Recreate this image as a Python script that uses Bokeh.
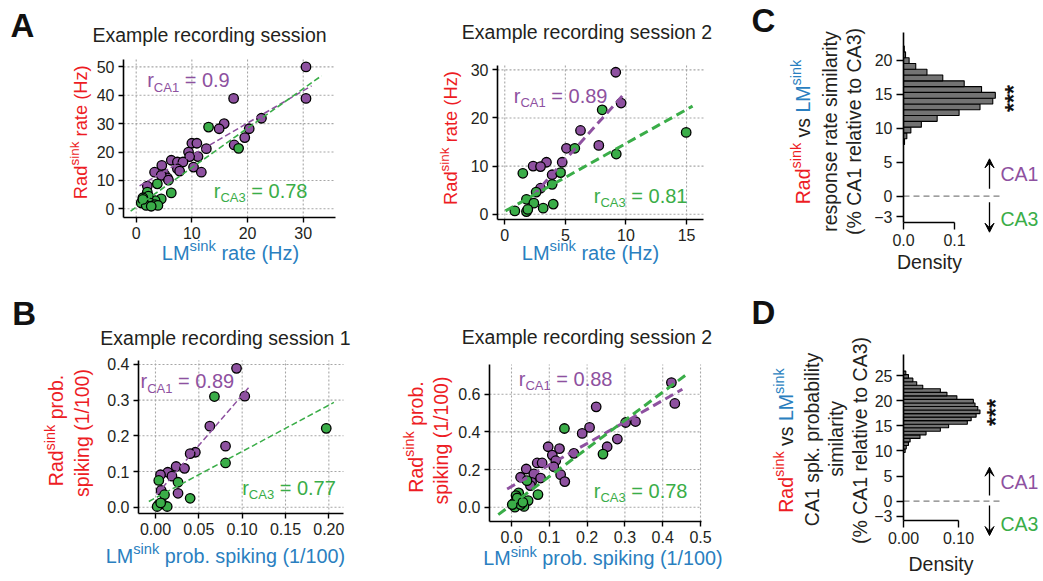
import math
from bokeh.plotting import figure
from bokeh.models import Range1d, FixedTicker, Label, Arrow, VeeHead, NumeralTickFormatter
from bokeh.layouts import row, column
from bokeh.embed import file_html
from bokeh.resources import INLINE

FONT = "Liberation Sans"
INK = "#231f20"
PURPLE = "#8e51a0"
GREEN = "#3aad48"
RED = "#ed1c24"
BLUE = "#2a7fc0"
HIST_FILL = "#737373"
GRID_COLOR = "#a6a6a6"

# ---------------- data ----------------
# A: example session 1 (rates, Hz)
A1_CA1_X = [30.5, 30.5, 17.5, 22.5, 20.3, 19.5, 15.8, 14.9, 17.6, 12.6, 10.0, 10.9, 9.4, 11.1, 9.6,
            10.3, 11.7, 6.3, 7.4, 8.4, 7.4, 7.8, 4.6, 3.3, 5.1, 5.6, 4.5, 5.8, 2.0]
A1_CA1_Y = [50.0, 38.9, 38.9, 31.9, 28.2, 25.1, 30.0, 28.2, 22.5, 21.2, 23.1, 23.1, 20.0, 18.4, 18.4,
            14.7, 12.9, 17.1, 16.5, 16.5, 14.1, 13.3, 15.3, 12.9, 12.1, 10.9, 11.8, 10.1, 8.0]
A1_CA3_X = [13.0, 18.4, 6.3, 3.8, 4.5, 3.4, 2.0, 2.2, 1.2, 1.5, 2.4, 3.4, 3.9, 0.9, 1.8, 2.7, 1.2]
A1_CA3_Y = [28.8, 21.3, 5.6, 8.8, 3.5, 2.9, 5.9, 4.5, 3.9, 2.7, 2.1, 1.5, 1.2, 2.1, 1.2, 0.9, 3.3]
A1_FIT_CA1 = (1.14, 7.4, 0.6, 31.5)      # slope, intercept, x start, x end
A1_FIT_CA3 = (1.39, 0.6, -1.0, 33.3)
A1_R = ("0.9", "0.78")
A1_XTICKS = [0, 10, 20, 30]
A1_YTICKS = [0, 10, 20, 30, 40, 50]

# A: example session 2
A2_CA1_X = [9.16, 9.6, 6.25, 7.76, 5.09, 3.44, 2.34, 2.95, 4.74, 3.91, 2.95]
A2_CA1_Y = [29.5, 23.1, 17.4, 14.3, 13.7, 10.8, 10.0, 9.9, 10.8, 8.2, 5.4]
A2_CA3_X = [8.04, 9.2, 14.97, 5.78, 1.49, 4.6, 3.91, 2.59, 1.79, 2.4, 3.17, 4.0, 0.83, 1.79, 1.9]
A2_CA3_Y = [21.7, 12.5, 17.0, 13.7, 8.5, 8.65, 6.2, 4.6, 3.1, 2.3, 1.25, 2.1, 0.69, 0.54, 1.0]
A2_FIT_CA1 = (2.81, -2.69, 2.26, 9.96)
A2_FIT_CA3 = (1.41, 0.6, 0.06, 15.5)
A2_R = ("0.89", "0.81")
A2_XTICKS = [0, 5, 10, 15]
A2_YTICKS = [0, 10, 20, 30]

# B: example session 1 (spiking probability)
B1_CA1_X = [0.0935, 0.103, 0.0627, 0.0808, 0.046, 0.040, 0.0238, 0.0335, 0.0142, 0.0058, 0.019, 0.0065, 0.026]
B1_CA1_Y = [0.389, 0.311, 0.227, 0.171, 0.154, 0.150, 0.114, 0.109, 0.098, 0.091, 0.087, 0.047, 0.039]
B1_CA3_X = [0.068, 0.197, 0.0808, 0.026, 0.0038, 0.0104, 0.040, 0.0038, 0.0077, 0.0019, 0.0135, 0.006]
B1_CA3_Y = [0.310, 0.221, 0.124, 0.070, 0.075, 0.035, 0.025, 0.0075, 0.0093, 0.002, 0.002, 0.012]
B1_FIT_CA1 = (2.82, 0.032, 0.0012, 0.1077)
B1_FIT_CA3 = (1.30, 0.026, -0.0077, 0.2058)
B1_R = ("0.89", "0.77")
B1_XTICKS = [0, 0.05, 0.1, 0.15, 0.2]
B1_YTICKS = [0, 0.1, 0.2, 0.3, 0.4]

# B: example session 2
B2_CA1_X = [0.423, 0.432, 0.224, 0.328, 0.302, 0.2065, 0.187, 0.280, 0.253, 0.165, 0.097, 0.127, 0.108,
            0.117, 0.112, 0.068, 0.081, 0.130, 0.141, 0.039, 0.024, 0.059, 0.077, 0.053, 0.050]
B2_CA1_Y = [0.662, 0.551, 0.533, 0.455, 0.450, 0.424, 0.392, 0.362, 0.321, 0.286, 0.321, 0.311, 0.277,
            0.247, 0.215, 0.235, 0.235, 0.173, 0.136, 0.203, 0.159, 0.177, 0.155, 0.132, 0.115]
B2_CA3_X = [0.140, 0.242, 0.070, 0.041, 0.044, 0.019, 0.012, 0.018, 0.006, 0.033, 0.009, 0.024, 0.015, 0.030, 0.002]
B2_CA3_Y = [0.418, 0.282, 0.067, 0.141, 0.035, 0.076, 0.062, 0.035, 0.021, 0.004, 0.0, 0.014, 0.049, 0.026, 0.014]
B2_FIT_CA1 = (1.143, 0.110, -0.0115, 0.452)
B2_FIT_CA3 = (1.495, 0.013, -0.035, 0.4695)
B2_R = ("0.88", "0.78")
B2_XTICKS = [0, 0.1, 0.2, 0.3, 0.4, 0.5]
B2_YTICKS = [0, 0.2, 0.4, 0.6]

# C: response-rate similarity distribution
C_BIN_LOWER = [7.59, 8.44, 9.29, 10.14, 10.99, 11.84, 12.69, 13.54, 14.39, 15.24, 16.09, 16.94,
               17.79, 18.64, 19.49, 20.34, 21.19]
C_DENSITY = [0.002, 0.0065, 0.0144, 0.035, 0.066, 0.109, 0.150, 0.175, 0.180, 0.153, 0.119, 0.077,
             0.046, 0.024, 0.011, 0.004, 0.0015]
C_BIN_WIDTH = 0.85
C_XTICKS = [0, 0.1]
C_YTICKS = [-3, 0, 5, 10, 15, 20]

# D: spiking-probability similarity distribution
D_BIN_LOWER = [9.685, 10.39, 11.095, 11.8, 12.505, 13.21, 13.915, 14.62, 15.325, 16.03, 16.735, 17.44,
               18.145, 18.85, 19.555, 20.26, 20.965, 21.67, 22.375, 23.08, 23.785, 24.49, 25.195]
D_DENSITY = [0.003, 0.005, 0.009, 0.012, 0.030, 0.041, 0.067, 0.082, 0.116, 0.123, 0.132, 0.139,
             0.135, 0.130, 0.127, 0.097, 0.079, 0.067, 0.035, 0.024, 0.017, 0.009, 0.0042]
D_BIN_WIDTH = 0.705
D_XTICKS = [0, 0.1]
D_YTICKS = [-3, 0, 5, 10, 15, 20, 25]

# ---------------- text helpers ----------------
CW = {' ': 278, '!': 278, '%': 889, '(': 333, ')': 333, '*': 389, '.': 278, '/': 278, '=': 584,
      '-': 333, '\u2212': 584,
      'A': 667, 'B': 667, 'C': 722, 'D': 722, 'E': 667, 'H': 722, 'L': 556, 'M': 833, 'R': 722,
      'a': 556, 'b': 556, 'c': 500, 'd': 556, 'e': 556, 'f': 278, 'g': 556, 'h': 556, 'i': 222,
      'j': 222, 'k': 500, 'l': 222, 'm': 833, 'n': 556, 'o': 556, 'p': 556, 'q': 556, 'r': 333,
      's': 500, 't': 278, 'u': 556, 'v': 500, 'w': 722, 'x': 500, 'y': 500, 'z': 500}


def tw(s, size):
    return sum(CW.get(ch, 556) for ch in s) / 1000.0 * size


class Panel:
    """One tile of the page; its frame covers the whole tile.  The inner plot box
    (page pixels) maps onto xlim/ylim, and the axes are pinned to the box edges."""

    def __init__(self, tx, ty, w, h, box, xlim, ylim):
        bl, bt, br, bb = box
        kx = (xlim[1] - xlim[0]) / (br - bl)
        ky = (ylim[1] - ylim[0]) / (bb - bt)
        xr = (xlim[0] - (bl - tx) * kx, xlim[1] + (tx + w - br) * kx)
        yr = (ylim[0] - (ty + h - bb) * ky, ylim[1] + (bt - ty) * ky)
        self.fl = tx
        self.fb = ty + h
        self.xlim, self.ylim = xlim, ylim
        self.p = figure(width=w, height=h, x_range=Range1d(*xr), y_range=Range1d(*yr),
                        output_backend="svg", toolbar_location=None,
                        min_border_left=0, min_border_right=0, min_border_top=0, min_border_bottom=0)
        self.p.outline_line_color = None
        self.p.background_fill_color = "white"
        self.p.border_fill_color = "white"
        self.p.grid.visible = False

    def rich(self, segs, px, py, size, rotated=False, align="center", bold=False):
        """Place a run of text pieces; (px, py) is the page position of the
        cap-height middle of the run (its centre, or its start if align='left')."""
        items = []
        total = 0.0
        for t, c, k in segs:
            s = size * (0.74 if k == "sup" else 0.65 if k == "sub" else 1.0)
            w = tw(t, s)
            items.append((t, c, k, s, w))
            total += w
        pos = -total / 2.0 if align == "center" else 0.0
        for t, c, k, s, w in items:
            shift = 0.31 * size if k == "sup" else (-0.36 * size if k == "sub" else 0.0)
            lead = len(t) - len(t.lstrip(" "))
            txt = t.strip(" ")
            off = pos + tw(" " * lead, s)
            if txt:
                if rotated:
                    x, y, ang = px - shift, py - off, math.pi / 2
                else:
                    x, y, ang = px + off, py - shift, 0.0
                self.p.add_layout(Label(x=x - self.fl, y=self.fb - y, x_units="screen", y_units="screen",
                                        text=txt, text_color=c, text_font=FONT,
                                        text_font_size="%.1fpx" % s,
                                        text_font_style="bold" if bold else "normal",
                                        text_align="left", text_baseline="middle", angle=ang))
            pos += w

    def axes(self, xticks, yticks, xfmt=None, yfmt=None, tick_out=5, standoff=4, size="16px",
             xbounds=None, ybounds=None):
        xa, ya = self.p.xaxis[0], self.p.yaxis[0]
        xa.fixed_location = self.ylim[0]
        ya.fixed_location = self.xlim[0]
        xa.bounds = xbounds if xbounds else self.xlim
        ya.bounds = ybounds if ybounds else self.ylim
        for ax, ticks, fmt in ((xa, xticks, xfmt), (ya, yticks, yfmt)):
            ax.ticker = FixedTicker(ticks=ticks)
            if fmt:
                ax.formatter = NumeralTickFormatter(format=fmt)
            ax.minor_tick_line_color = None
            ax.major_tick_out = tick_out
            ax.major_tick_in = 0
            ax.major_tick_line_width = 1.4
            ax.major_tick_line_color = "black"
            ax.axis_line_width = 1.6
            ax.axis_line_color = "black"
            ax.major_label_text_font = FONT
            ax.major_label_text_font_size = size
            ax.major_label_text_color = INK
            ax.major_label_standoff = standoff

    def grid(self, xticks, yticks):
        (x0, x1), (y0, y1) = self.xlim, self.ylim
        style = dict(line_color=GRID_COLOR, line_dash="2 2", line_width=1.1)
        self.p.segment(x0=xticks, x1=xticks, y0=[y0] * len(xticks), y1=[y1] * len(xticks), **style)
        self.p.segment(x0=[x0] * len(yticks), x1=[x1] * len(yticks), y0=yticks, y1=yticks, **style)

    def arrow(self, px, py0, py1):
        self.p.add_layout(Arrow(end=VeeHead(size=9, fill_color="black", line_color="black", line_width=1),
                                x_start=px - self.fl, y_start=self.fb - py0, x_end=px - self.fl,
                                y_end=self.fb - py1, start_units="screen", end_units="screen",
                                line_width=1.3, line_color="black"))


def scatter_panel(P, cx, cy, gx, gy, fit1, fit3, lw, dash):
    P.p.scatter(cx, cy, size=9.5, fill_color=PURPLE, line_color="black", line_width=1.3)
    P.p.scatter(gx, gy, size=9.5, fill_color=GREEN, line_color="black", line_width=1.3)
    for (s, b, x0, x1), col in ((fit1, PURPLE), (fit3, GREEN)):
        P.p.line([x0, x1], [s * x0 + b, s * x1 + b], line_color=col, line_width=lw, line_dash=dash)


def r_text(P, which, val, left, cy):
    col = PURPLE if which == "CA1" else GREEN
    P.rich([("r", col, "n"), (which, col, "sub"), (" = " + val, col, "n")], left, cy, 20, align="left")


def sink_label(base, rest, col):
    return [(base, col, "n"), ("sink", col, "sup"), (rest, col, "n")]


def hist_panel(P, lower, dens, width):
    P.p.hbar(y=[lo + width / 2 for lo in lower], height=width, left=0, right=dens,
             fill_color=HIST_FILL, line_color="black", line_width=1.1)
    P.p.line([P.xlim[0], P.xlim[1]], [0, 0], line_color="#808080", line_dash="6 4", line_width=1.3)


# ---------------- panel A1 ----------------
A1 = Panel(0, 0, 400, 290, (123, 59, 335, 217), (-2.28, 35.8), (-3.06, 52.6))
A1.grid(A1_XTICKS, A1_YTICKS)
A1.axes(A1_XTICKS, A1_YTICKS)
scatter_panel(A1, A1_CA1_X, A1_CA1_Y, A1_CA3_X, A1_CA3_Y, A1_FIT_CA1, A1_FIT_CA3, 1.6, "6 3")
r_text(A1, "CA1", A1_R[0], 146.7, 79.5)
r_text(A1, "CA3", A1_R[1], 213.3, 190)
A1.rich([("A", "#111111", "n")], 10, 36.7 - 0.36 * 33, 33, align="left", bold=True)
A1.rich([("Example recording session", INK, "n")], 209, 34, 19.5)
A1.rich(sink_label("LM", " rate (Hz)", BLUE), 230, 252, 20)
A1.rich(sink_label("Rad", " rate (Hz)", RED), 79.5, 131.7, 18.3, rotated=True)

# ---------------- panel A2 ----------------
A2 = Panel(400, 0, 340, 290, (497, 65, 703, 219), (-0.6, 16.4), (-1.1, 30.9))
A2.grid(A2_XTICKS, A2_YTICKS)
A2.axes(A2_XTICKS, A2_YTICKS)
scatter_panel(A2, A2_CA1_X, A2_CA1_Y, A2_CA3_X, A2_CA3_Y, A2_FIT_CA1, A2_FIT_CA3, 3.0, "9 5")
r_text(A2, "CA1", A2_R[0], 513.3, 95)
r_text(A2, "CA3", A2_R[1], 593.3, 195)
A2.rich([("Example recording session 2", INK, "n")], 586.5, 31.7, 19.5)
A2.rich(sink_label("LM", " rate (Hz)", BLUE), 590, 252, 20)
A2.rich(sink_label("Rad", " rate (Hz)", RED), 450, 137.5, 18.3, rotated=True)

# ---------------- panel C ----------------
C = Panel(740, 0, 303, 290, (903, 32, 999, 222), (0, 0.1882), (-3.87, 24.04))
C.axes(C_XTICKS, C_YTICKS, xfmt="0.0", tick_out=7, standoff=4, xbounds=(0, 0.1))
C.p.yaxis[0].major_label_overrides = {-3: "\u22123"}
hist_panel(C, C_BIN_LOWER, C_DENSITY, C_BIN_WIDTH)
C.rich([("C", "#111111", "n")], 751, 32 - 0.36 * 33, 33, align="left", bold=True)
C.rich([("Rad", RED, "n"), ("sink", RED, "sup"), (" vs ", INK, "n"), ("LM", BLUE, "n"), ("sink", BLUE, "sup")],
       802, 131.5, 19.5, rotated=True)
C.rich([("response rate similarity", INK, "n")], 829, 131, 19.5, rotated=True)
C.rich([("(% CA1 relative to CA3)", INK, "n")], 853, 131, 19.5, rotated=True)
C.rich([("Density", INK, "n")], 929, 261.7, 19.5)
C.rich([("CA1", PURPLE, "n")], 1000, 173.3, 19.5, align="left")
C.rich([("CA3", GREEN, "n")], 1000, 218.3, 19.5, align="left")
C.rich([("***", "#111111", "n")], 1013, 98, 23, rotated=True, bold=True)
C.arrow(989, 188.3, 158.3)
C.arrow(989, 201.7, 231.7)

# ---------------- panel B1 ----------------
B1 = Panel(0, 290, 400, 291, (138, 360, 343, 513), (-0.0196, 0.2169), (-0.0176, 0.411))
B1.grid(B1_XTICKS, B1_YTICKS)
B1.axes(B1_XTICKS, B1_YTICKS, xfmt="0.00", yfmt="0.0")
scatter_panel(B1, B1_CA1_X, B1_CA1_Y, B1_CA3_X, B1_CA3_Y, B1_FIT_CA1, B1_FIT_CA3, 1.5, "6 3")
r_text(B1, "CA1", B1_R[0], 140, 380.3)
r_text(B1, "CA3", B1_R[1], 241.7, 487)
B1.rich([("B", "#111111", "n")], 11.7, 325 - 0.36 * 33, 33, align="left", bold=True)
B1.rich([("Example recording session 1", INK, "n")], 225, 337.8, 19.5)
B1.rich(sink_label("LM", " prob. spiking (1/100)", BLUE), 225, 555, 19.8)
B1.rich(sink_label("Rad", " prob.", RED), 55.8, 430, 19.5, rotated=True)
B1.rich([("spiking (1/100)", RED, "n")], 81, 432.5, 19.5, rotated=True)

# ---------------- panel B2 ----------------
B2 = Panel(400, 290, 340, 291, (489, 364, 701, 521), (-0.0582, 0.5026), (-0.0759, 0.758))
B2.grid(B2_XTICKS, B2_YTICKS)
B2.axes(B2_XTICKS, B2_YTICKS, xfmt="0.0", yfmt="0.0")
scatter_panel(B2, B2_CA1_X, B2_CA1_Y, B2_CA3_X, B2_CA3_Y, B2_FIT_CA1, B2_FIT_CA3, 3.0, "9 5")
r_text(B2, "CA1", B2_R[0], 518.3, 378)
r_text(B2, "CA3", B2_R[1], 593.3, 490)
B2.rich([("Example recording session 2", INK, "n")], 586.5, 336, 19.5)
B2.rich(sink_label("LM", " prob. spiking (1/100)", BLUE), 602.5, 557.5, 19.8)
B2.rich(sink_label("Rad", " prob.", RED), 415, 436.5, 19.5, rotated=True)
B2.rich([("spiking (1/100)", RED, "n")], 440, 440, 19.5, rotated=True)

# ---------------- panel D ----------------
D = Panel(740, 290, 303, 291, (903, 354, 999, 520), (0, 0.1745), (-3.84, 29.2))
D.axes(D_XTICKS, D_YTICKS, xfmt="0.00", tick_out=7, standoff=4, xbounds=(0, 0.1))
D.p.yaxis[0].major_label_overrides = {-3: "\u22123"}
hist_panel(D, D_BIN_LOWER, D_DENSITY, D_BIN_WIDTH)
D.rich([("D", "#111111", "n")], 751, 323.5 - 0.36 * 33, 33, align="left", bold=True)
D.rich([("Rad", RED, "n"), ("sink", RED, "sup"), (" vs ", INK, "n"), ("LM", BLUE, "n"), ("sink", BLUE, "sup")],
       785, 440, 19.5, rotated=True)
D.rich([("CA1 spk. probability", INK, "n")], 811.7, 439, 19.5, rotated=True)
D.rich([("similarity", INK, "n")], 835, 438.3, 19.5, rotated=True)
D.rich([("(% CA1 relative to CA3)", INK, "n")], 859, 440, 19.5, rotated=True)
D.rich([("Density", INK, "n")], 940.5, 563, 19.5)
D.rich([("CA1", PURPLE, "n")], 1000, 481.7, 19.5, align="left")
D.rich([("CA3", GREEN, "n")], 1000, 523.7, 19.5, align="left")
D.rich([("***", "#111111", "n")], 995, 412, 23, rotated=True, bold=True)
D.arrow(989, 495, 466.7)
D.arrow(989, 505, 535)

layout = column(row(A1.p, A2.p, C.p), row(B1.p, B2.p, D.p))
open("out.html", "w").write(file_html(layout, INLINE))
